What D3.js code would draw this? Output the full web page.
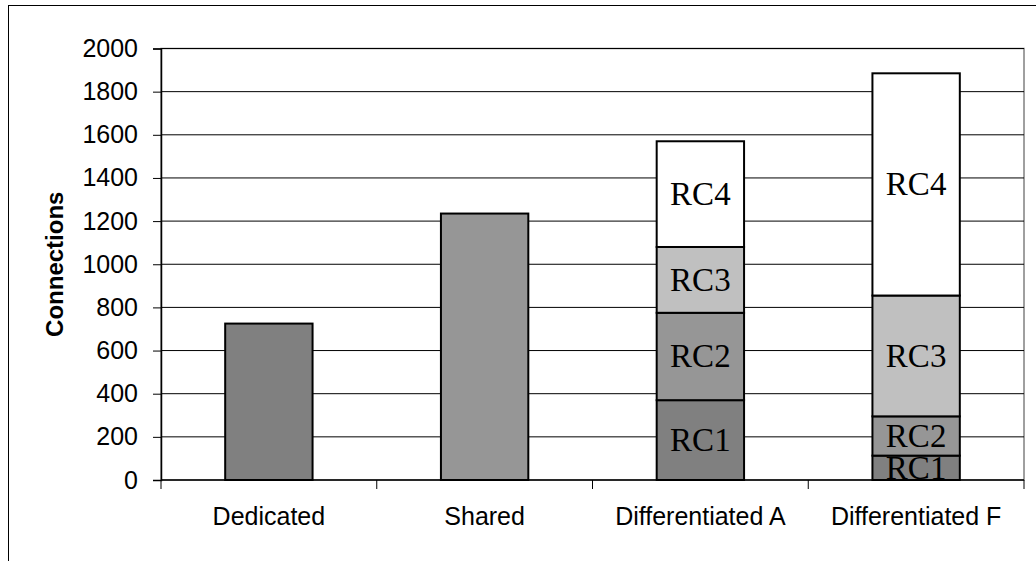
<!DOCTYPE html>
<html><head><meta charset="utf-8">
<script src="https://cdn.jsdelivr.net/npm/d3@7"></script>
<style>html,body{margin:0;padding:0;background:#fff;}svg{display:block;}</style>
</head><body>
<svg id="chart" width="1036" height="561"></svg>
<script>
const categories = ["Dedicated", "Shared", "Differentiated A", "Differentiated F"];
const seriesNames = ["RC1", "RC2", "RC3", "RC4"];
const rc1 = [725, 0, 370, 113];
const rc2 = [0, 1235, 405, 182];
const rc3 = [0, 0, 305, 560];
const rc4 = [0, 0, 490, 1030];
const labeledCategories = ["Differentiated A", "Differentiated F"];
const yTicks = [0, 200, 400, 600, 800, 1000, 1200, 1400, 1600, 1800, 2000];
const yTitle = "Connections";
const colors = ["#808080", "#969696", "#c0c0c0", "#ffffff"];

const rows = categories.map((c, i) => ({cat: c, RC1: rc1[i], RC2: rc2[i], RC3: rc3[i], RC4: rc4[i]}));
const stacked = d3.stack().keys(seriesNames)(rows);

const svg = d3.select("#chart");
const L = 161, R = 1024, T = 48.5, B = 480;

// outer frame
svg.append("rect").attr("x", 8.5).attr("y", 5.5).attr("width", 1100).attr("height", 700)
  .attr("fill", "none").attr("stroke", "#000").attr("stroke-width", 1);

const x = d3.scaleBand().domain(categories).range([L, R]).paddingInner(0.595).paddingOuter(0.2975);
const y = d3.scaleLinear().domain([0, 2000]).range([B, T]);

// plot area border
svg.append("rect").attr("x", L).attr("y", T).attr("width", R - L).attr("height", B - T)
  .attr("fill", "none").attr("stroke", "#808080").attr("stroke-width", 1.5);

// gridlines
svg.append("g").selectAll("line").data(yTicks.filter(d => d > 0)).join("line")
  .attr("x1", L).attr("x2", R).attr("y1", d => y(d)).attr("y2", d => y(d))
  .attr("stroke", "#000").attr("stroke-width", 1);

// bars
const g = svg.append("g");
stacked.forEach((s, si) => {
  g.selectAll(null).data(s.filter(d => d[1] - d[0] > 0)).join("rect")
    .attr("x", d => x(d.data.cat)).attr("width", x.bandwidth())
    .attr("y", d => y(d[1])).attr("height", d => y(d[0]) - y(d[1]))
    .attr("fill", colors[si]).attr("stroke", "#000").attr("stroke-width", 2);
});

// segment labels
stacked.forEach((s, si) => {
  g.selectAll(null).data(s.filter(d => labeledCategories.includes(d.data.cat) && d[1] - d[0] > 0)).join("text")
    .attr("x", d => x(d.data.cat) + x.bandwidth() / 2)
    .attr("y", d => (y(d[0]) + y(d[1])) / 2 + 11)
    .attr("text-anchor", "middle")
    .attr("font-family", "Liberation Serif, Times New Roman, serif")
    .attr("font-size", 33).attr("fill", "#000")
    .text(s.key);
});

// y axis
const yAxis = d3.axisLeft(y).tickValues(yTicks).tickSize(8).tickPadding(15).tickFormat(d3.format("d"));
const ya = svg.append("g").attr("transform", `translate(${L},0)`).call(yAxis);
ya.select(".domain").attr("stroke", "#000").attr("stroke-width", 1.5);
ya.selectAll(".tick line").attr("stroke", "#000");
ya.selectAll(".tick text").attr("font-family", "Liberation Sans, Arial, sans-serif").attr("font-size", 25).attr("fill", "#000");

// x axis with ticks at band boundaries
const xa = svg.append("g").attr("transform", `translate(0,${B})`);
xa.append("line").attr("x1", L).attr("x2", R).attr("stroke", "#000").attr("stroke-width", 1.5);
const bounds = categories.map((c, i) => L + i * x.step());
bounds.push(R);
xa.selectAll("line.tk").data(bounds).join("line").attr("class", "tk")
  .attr("x1", d => d).attr("x2", d => d).attr("y1", 0).attr("y2", 9).attr("stroke", "#000");
xa.selectAll("text").data(categories).join("text")
  .attr("x", d => x(d) + x.bandwidth() / 2).attr("y", 45)
  .attr("text-anchor", "middle")
  .attr("font-family", "Liberation Sans, Arial, sans-serif").attr("font-size", 25).attr("fill", "#000")
  .text(d => d);

// y title
svg.append("text").attr("transform", `translate(63,${(T + B) / 2}) rotate(-90)`)
  .attr("text-anchor", "middle").attr("font-family", "Liberation Sans, Arial, sans-serif")
  .attr("font-weight", "bold").attr("font-size", 24).attr("fill", "#000").text(yTitle);
</script>
</body></html>
